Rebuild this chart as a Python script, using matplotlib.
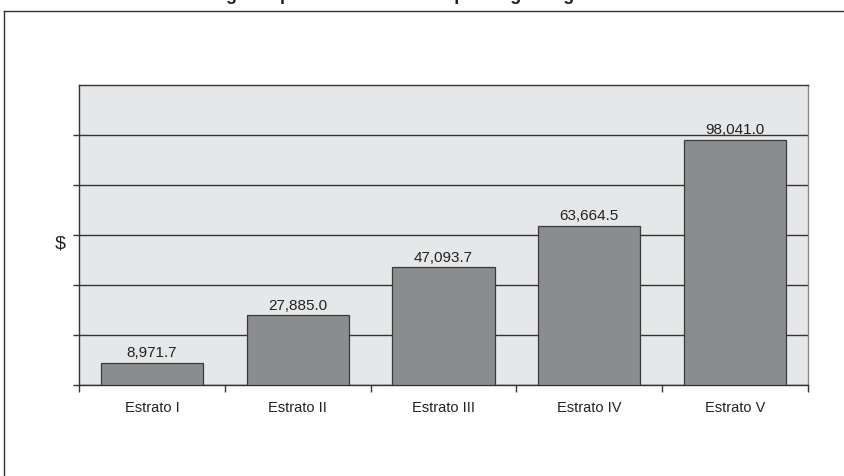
import matplotlib
matplotlib.use("Agg")
import matplotlib.pyplot as plt
from matplotlib.lines import Line2D

# Data
categories = ["Estrato I", "Estrato II", "Estrato III", "Estrato IV", "Estrato V"]
values = [8971.7, 27885.0, 47093.7, 63664.5, 98041.0]
y_max = 120000
y_step = 20000
title_text = "Ingreso promedio trimestral por hogar según estrato"

plt.rcParams["font.family"] = ["Liberation Sans", "DejaVu Sans"]

fig = plt.figure(figsize=(8.45, 4.77), dpi=100)
fig.patch.set_facecolor("white")

# Outer frame (left and top edges visible)
fig.add_artist(Line2D([4 / 845, 4 / 845], [0, 1 - 12 / 477], transform=fig.transFigure,
                      color="#333333", lw=1.0))
fig.add_artist(Line2D([4 / 845, 1], [1 - 12 / 477, 1 - 12 / 477], transform=fig.transFigure,
                      color="#333333", lw=1.0))

# Title, sitting just above the top edge
fig.text(0.515, 1 + 0.5 / 477, title_text, ha="center", va="baseline",
         fontsize=13, fontweight="bold", color="#222222")

ax = fig.add_axes([79 / 845, (477 - 386) / 477, (808 - 79) / 845, (386 - 86) / 477])
ax.set_facecolor("#e6e7e8")

x = list(range(len(categories)))
bars = ax.bar(x, values, width=0.70, color="#8b8c8e", edgecolor="#3a3a3a",
              linewidth=0.9, zorder=3)

ax.set_xlim(-0.5, len(categories) - 0.5)
ax.set_ylim(0, y_max)

# Horizontal gridlines at every step below the top edge
yticks = list(range(0, y_max, y_step))
ax.set_yticks(yticks)
ax.set_yticklabels([])
ax.yaxis.grid(True, color="#333333", linewidth=1.0, zorder=1)
ax.set_axisbelow(True)
ax.tick_params(axis="y", direction="out", length=4, width=1.0, color="#333333")

# Category boundaries as x ticks, labels centred in each slot
ax.set_xticks([i - 0.5 for i in range(len(categories) + 1)])
ax.set_xticklabels([])
ax.set_xticks(x, minor=True)
ax.set_xticklabels(categories, minor=True, fontsize=10.5, color="#222222")
ax.tick_params(axis="x", which="major", direction="out", length=5, width=1.0, color="#333333")
ax.tick_params(axis="x", which="minor", length=0, pad=11)

for side in ["left", "bottom", "top"]:
    ax.spines[side].set_color("#333333")
    ax.spines[side].set_linewidth(1.0)
ax.spines["right"].set_color("#888888")
ax.spines["right"].set_linewidth(1.0)

# Value labels
for xi, v in zip(x, values):
    ax.text(xi, v + y_max * 0.012, f"{v:,.1f}", ha="center", va="bottom",
            fontsize=11, color="#222222", zorder=4)

ax.set_ylabel("$", rotation=0, fontsize=14, color="#222222", labelpad=6, va="top")

fig.savefig("out.png", dpi=100)
